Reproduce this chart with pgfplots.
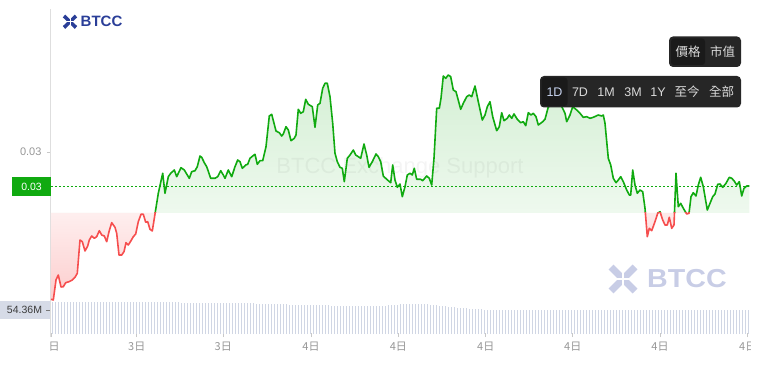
\documentclass[border=0pt]{standalone}
\usepackage{pgfplots}
\pgfplotsset{compat=1.18}
\usepackage{pgfplotstable}
\usepackage{fontspec}
\setmainfont{Liberation Sans}
\newfontfamily\cjk{Noto Sans CJK TC}
\definecolor{lg}{RGB}{16,170,16}
\definecolor{lr}{RGB}{246,78,78}
\definecolor{gfill}{RGB}{212,239,212}
\definecolor{rfillA}{RGB}{255,246,246}
\definecolor{rfillB}{RGB}{252,205,205}
\definecolor{rfillC}{RGB}{252,222,222}
\definecolor{volc}{RGB}{208,214,228}
\definecolor{volbox}{RGB}{214,219,231}
\definecolor{voltxt}{RGB}{60,60,60}
\definecolor{ticktk}{RGB}{200,200,200}
\definecolor{tickdk}{RGB}{120,120,120}
\definecolor{axgray}{RGB}{222,222,222}
\definecolor{tgray}{RGB}{150,150,150}
\definecolor{logob}{RGB}{42,62,152}
\definecolor{logol}{RGB}{200,205,230}
\definecolor{btnbg}{RGB}{38,38,38}
\definecolor{btnhl}{RGB}{26,26,26}
\definecolor{btntx}{RGB}{218,218,218}
\definecolor{btnsel}{RGB}{200,212,240}

\pgfplotstableread{
x v
51 -86.3
53.3 -87
56 -67
58.3 -62
61 -74
63.3 -73.7
65.7 -69.7
69 -68.7
72.3 -67
75 -64.3
77.3 -60.3
80 -27
82.3 -28.7
85 -38
87.7 -33
89.3 -27
91.7 -23
94.3 -25.3
96.7 -23.7
99.3 -17.7
101.7 -22
104.3 -23
106.7 -28.7
109 -18.7
111.7 -9.7
115 -14.3
116.7 -20.3
119 -42
121.7 -42
124 -38.7
126 -29.7
128.3 -32
131 -27.7
133.3 -23.7
135.7 -21
138.3 -8.7
141 -1.3
143.3 -1.3
145.7 -9.3
147.7 -8.7
150 -16.3
152.3 -18
155 -1
158.3 19.7
162.7 39.7
165 19.7
168.3 36.3
170.7 39.7
174.3 43
176.7 36.3
181 45.3
184.3 43
189.3 34.7
191.7 41.3
195 42.3
197.3 46.3
200 57
201.7 55.7
204.3 50.3
206.7 46.3
210.7 34.7
215 34.7
217.7 36.3
220.7 42.3
223.3 38
225 34.7
228.3 43
231.7 36.3
235 46.3
237.7 53
240 51.3
242.3 44.7
245.7 48
247.7 48.7
250 54.7
252.7 57
255 58.7
257.3 48.7
260 52.3
262.7 52.3
266 66.3
269.3 97
271.7 98.7
276 82
279.3 80.3
281.7 77
283.3 79
286 86.3
288.3 83
291 72.3
294.3 74.7
296 78
298.3 103.7
300.7 99.7
303.3 101.3
305.7 113.7
308.3 108.7
312.3 106.3
315 85.7
317.7 108
320 109.7
322.7 124.7
325 129.7
327.3 129.7
330 116.3
332.7 89.7
335 59.7
337.3 51.3
340 45.7
342.3 44.7
344.3 31.3
347.3 54.7
350 58
353.3 63
355.7 58
358.3 56.3
360.7 54.7
364 69
366.7 58
369 45.7
372.3 51.3
376 59
378.3 56.3
380.7 51.3
383.3 37
386.7 33.7
390.7 30.3
392.7 48
395 33
397.3 25.7
400 29
402.3 16.3
405 26.3
407.3 38
410 39.7
412.3 38
414.3 44.7
416.7 33.7
420.7 33.7
422.7 32.3
426.7 37
429.3 34.7
431.7 28
434 54.7
436.7 104.7
439.3 104.7
441 114.7
443.3 137
445.7 134.7
448.3 138
450.7 136.3
453.3 123
456 121.3
460.7 103.7
463.3 109.7
466.7 116.3
469.3 118
471.7 116.3
475 127
478.3 111.3
482.3 93
485 98
487.3 106.3
490 111.3
492.7 96.3
496.7 82.3
499.3 86.3
501.7 100.3
504 92.3
507.3 94.7
509.3 98
511.7 94.7
514 99
517.3 93.7
520.7 90.3
523.3 91.3
525.7 87.3
528.3 100.3
531 98
533.3 99.7
536 96.3
538.3 88
542.7 91.3
545 93.7
548 105
552 113
557 117
561 108
565 99.7
566.7 91.3
570 98
572.7 106.3
576.7 103
580 99.7
583.3 95.7
586.7 96.3
590 94.7
593.3 95.7
598.3 98
601.7 97
603.3 98
605 89.7
608.3 54.7
610.7 48
613.3 34.7
616 30.3
618.3 33
620.7 36.3
623.3 31.3
626.7 23
629.3 18
630.7 18
632.7 43
635 28
637.3 19.7
640 23
642.7 21.3
645 4.7
647.3 -23.7
649.3 -15.3
651.7 -17.7
655 -8.7
657.7 -0.3
660 1.3
662.7 -7
665 -12
667.3 -12
669.3 -4.3
671.7 -15.3
674 -12
676 39.7
678.3 6.3
680.7 9.7
683.3 4.7
686.7 -1
689 -0.3
691 16.3
693.3 20.3
696 17
698.3 28
700.7 35.7
703.3 26.3
707.3 3
710 9.7
712.7 16.3
715 19
717.7 28.7
720 29
722.7 25.7
726 29.7
729.3 35.7
731.7 34.7
734 32.3
736.7 28
739.3 31.3
741.7 17
744 24.7
746.7 27
749.3 27
}\price

\pgfplotstableread[row sep=\\]{
m\\
72.8\\ 73.2\\ 72.5\\ 73.0\\ 72.4\\ 72.9\\ 73.3\\ 72.6\\ 72.8\\ 72.2\\
73.0\\ 72.7\\ 72.4\\ 73.1\\ 72.6\\ 72.9\\ 72.3\\ 72.8\\ 73.0\\ 72.5\\
72.7\\ 72.2\\ 72.9\\ 72.6\\ 72.4\\ 72.8\\ 72.1\\ 72.6\\ 72.9\\ 72.3\\
72.5\\ 72.0\\ 72.6\\ 72.3\\ 72.7\\ 72.1\\ 72.4\\ 71.9\\ 72.3\\ 72.0\\
71.8\\ 72.2\\
71.5\\ 71.0\\ 71.3\\ 70.8\\ 71.1\\ 70.6\\ 70.9\\ 70.4\\ 70.8\\ 70.3\\
70.6\\ 70.1\\ 70.5\\ 70.0\\ 70.3\\ 69.9\\ 70.2\\ 69.8\\ 70.1\\ 69.6\\
69.9\\ 69.5\\ 69.8\\ 69.4\\ 69.6\\
69.2\\ 68.8\\ 69.0\\ 68.5\\ 68.8\\ 68.3\\ 68.6\\ 68.0\\ 68.3\\ 67.7\\ 67.9\\
67.2\\ 66.8\\ 66.5\\ 66.1\\ 66.3\\ 65.8\\ 66.0\\ 65.6\\ 65.8\\ 65.3\\ 65.5\\ 65.0\\ 65.2\\ 64.8\\ 64.9\\ 64.5\\
64.2\\ 63.8\\ 64.0\\ 63.5\\ 63.7\\ 63.2\\ 63.5\\ 63.0\\ 63.3\\ 62.9\\ 63.1\\ 62.7\\ 63.0\\ 62.8\\ 63.2\\ 63.6\\ 64.0\\ 64.5\\ 65.0\\ 65.6\\ 66.1\\ 66.6\\ 67.0\\
67.4\\ 67.8\\ 67.2\\ 67.9\\ 67.5\\ 68.0\\ 67.3\\ 67.6\\ 67.0\\ 66.5\\ 65.8\\ 65.0\\
64.0\\ 63.2\\ 62.5\\ 61.8\\ 61.2\\ 60.5\\ 59.8\\ 59.2\\
58.6\\ 58.0\\ 57.5\\ 57.0\\ 56.5\\ 56.0\\
55.6\\ 55.2\\ 54.9\\ 55.1\\ 54.7\\ 54.9\\ 54.5\\ 54.8\\ 54.4\\ 54.6\\
54.3\\ 54.7\\ 54.4\\ 54.6\\ 54.2\\ 54.5\\ 54.8\\ 54.4\\ 54.6\\ 54.3\\
54.5\\ 54.2\\ 54.6\\ 54.4\\ 54.7\\ 54.3\\ 54.5\\ 54.1\\ 54.4\\ 54.6\\
54.3\\ 54.5\\ 54.2\\ 54.6\\ 54.4\\ 54.8\\ 54.5\\ 54.7\\ 54.9\\ 54.6\\
54.8\\ 54.5\\ 54.3\\ 54.6\\ 54.2\\ 54.4\\ 54.1\\ 54.5\\ 54.3\\ 54.6\\
54.4\\ 54.2\\ 54.5\\ 54.3\\ 54.6\\ 54.4\\ 54.7\\ 54.5\\ 54.3\\ 54.6\\
54.4\\ 54.2\\ 54.5\\ 54.3\\ 54.1\\ 54.4\\ 54.6\\ 54.3\\ 54.5\\ 54.2\\
54.4\\ 54.6\\ 54.3\\ 54.5\\ 54.7\\ 54.4\\ 54.6\\ 54.3\\ 54.5\\ 54.2\\
54.4\\ 54.6\\ 54.3\\ 54.5\\ 54.2\\ 54.4\\ 54.6\\ 54.3\\ 54.5\\ 54.4\\
}\vol

\begin{document}
\begin{tikzpicture}
\begin{axis}[name=main, scale only axis, width=699pt, height=328pt,
  xmin=51, xmax=750, ymin=-124, ymax=204,
  axis x line*=bottom, axis y line*=left,
  x axis line style={draw=none},
  y axis line style={draw=axgray, line width=1pt},
  xtick={51,136.7,223.3,311,398.3,485.7,572.7,660,747.7},
  xticklabels={{\cjk 3日},{\cjk 3日},{\cjk 3日},{\cjk 4日},{\cjk 4日},{\cjk 4日},{\cjk 4日},{\cjk 4日},{\cjk 4日}},
  x tick style={draw=ticktk, line width=0.8pt},
  xtick align=inside, xtick pos=bottom,
  ytick={61}, yticklabels={0.03},
  y tick style={draw=ticktk, line width=0.8pt},
  ytick align=outside, ytick pos=left,
  major tick length=4pt,
  tick label style={font=\fontsize{11}{12}\selectfont, text=tgray},
  xticklabel style={yshift=-1pt},
  yticklabel style={xshift=-2pt},
  clip=false]
  \begin{scope}
    \clip (axis cs:51,0) rectangle (axis cs:750,204);
    \addplot[draw=none, top color=gfill, bottom color=white] table[x=x,y=v]{\price} \closedcycle;
  \end{scope}
  \begin{scope}
    \clip (axis cs:51,-124) rectangle (axis cs:750,0);
    \addplot[draw=none, top color=rfillA, bottom color=rfillB, restrict x to domain=50:158.4] table[x=x,y=v]{\price} \closedcycle;
    \addplot[draw=none, top color=white, bottom color=rfillC, restrict x to domain=642:679] table[x=x,y=v]{\price} \closedcycle;
  \end{scope}
  \node[text=black, opacity=0.045, font=\fontsize{22}{22}\selectfont] at (axis cs:400,45) {BTCC Exchange Support};
  \draw[lg, line width=0.9pt, dash pattern=on 2pt off 2pt] (axis cs:51,27) -- (axis cs:750,27);
  \begin{scope}
    \clip (axis cs:51,0) rectangle (axis cs:760,204);
    \addplot[lg, line width=1.6pt, line join=round] table[x=x,y=v]{\price};
  \end{scope}
  \begin{scope}
    \clip (axis cs:51,-124) rectangle (axis cs:760,0);
    \addplot[lr, line width=1.6pt, line join=round] table[x=x,y=v]{\price};
  \end{scope}
\end{axis}
\begin{axis}[at={(main.south west)}, anchor=south west, yshift=3pt,
  scale only axis, width=699pt, height=33.1pt,
  xmin=51, xmax=750, ymin=0, ymax=75, hide axis]
  \addplot[ycomb, volc, line width=0.7pt] table[x expr=\coordindex*3+52, y=m]{\vol};
\end{axis}
\begin{scope}[x=1pt, y=-1pt, shift={(-51pt,337pt)}]
  \fill[white] (0,338.5) rectangle (50.5,362);
  \fill[white] (750.5,338.5) rectangle (760,362);
  \fill[volbox] (0,301) rectangle (50.5,319);
  \node[font=\fontsize{10.5}{12}\selectfont, text=voltxt] at (24.5,310) {54.36M};
  \draw[tickdk, line width=0.8pt] (46.5,310) -- (50,310);
  \fill[lg] (12.3,177.3) rectangle (50.7,195.7);
  \node[font=\fontsize{10.5}{12}\selectfont, text=white] at (31.5,186.5) {0.03};
  % top-left logo icon: X of four arrow pieces
  \draw[logob, line width=3.6pt] (64,16) -- (76,27.5) (76,16) -- (64,27.5);
  \draw[white, line width=0.9pt] (70,14) -- (70,29.5) (62,21.75) -- (78,21.75);
  \node[anchor=west, inner sep=0pt, font=\fontsize{15}{15}\bfseries, text=logob] at (80.5,21.8) {BTCC};
  % bottom-right logo
  \draw[logol, line width=7pt] (611,267) -- (635,291) (635,267) -- (611,291);
  \draw[white, line width=1.6pt] (623,263) -- (623,295) (607,279) -- (639,279);
  \node[anchor=west, inner sep=0pt, font=\fontsize{26}{26}\bfseries, text=logol, xscale=1.1] at (647,279) {BTCC};
  % buttons
  \fill[btnbg, rounded corners=4pt] (669,36.5) rectangle (741,67);
  \fill[btnhl, rounded corners=3pt] (671,38.5) rectangle (705,65);
  \node[font=\cjk\fontsize{12.5}{13}\selectfont, text=btntx] at (688,51.5) {價格};
  \node[font=\cjk\fontsize{12.5}{13}\selectfont, text=btntx] at (722.5,51.5) {市值};
  \fill[btnbg, rounded corners=4pt] (540,76) rectangle (741,107.5);
  \fill[btnhl, rounded corners=3pt] (541.5,77.5) rectangle (567.5,106);
  \node[font=\fontsize{12.5}{13}\selectfont, text=btnsel] at (554.5,92) {1D};
  \node[font=\fontsize{12.5}{13}\selectfont, text=btntx] at (580,92) {7D};
  \node[font=\fontsize{12.5}{13}\selectfont, text=btntx] at (606,92) {1M};
  \node[font=\fontsize{12.5}{13}\selectfont, text=btntx] at (633,92) {3M};
  \node[font=\fontsize{12.5}{13}\selectfont, text=btntx] at (658,92) {1Y};
  \node[font=\cjk\fontsize{12.5}{13}\selectfont, text=btntx] at (687,92) {至今};
  \node[font=\cjk\fontsize{12.5}{13}\selectfont, text=btntx] at (721.5,92) {全部};
\end{scope}
\pgfresetboundingbox
\path[use as bounding box] (-51pt,-27pt) rectangle (709pt,337pt);
\end{tikzpicture}
\end{document}
